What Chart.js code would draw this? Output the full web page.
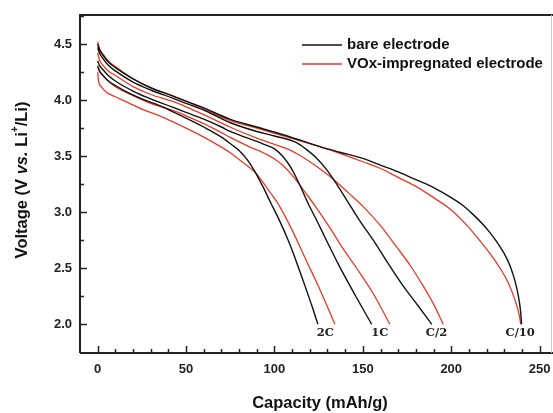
<!DOCTYPE html>
<html>
<head>
<meta charset="utf-8">
<script src="https://cdn.jsdelivr.net/npm/chart.js@4.4.1/dist/chart.umd.min.js"></script>
<style>
html,body{margin:0;padding:0;background:#fff;}
#c{display:block;}
</style>
</head>
<body>
<canvas id="c" width="553" height="413"></canvas>
<script>
// ---------- data (capacity mAh/g, voltage V) ----------
const rates = ["2C", "1C", "C/2", "C/10"];
const xTicks = [0, 50, 100, 150, 200, 250];
const yTicks = [2.0, 2.5, 3.0, 3.5, 4.0, 4.5];
const seriesNames = ["bare electrode", "VOx-impregnated electrode"];

const bare2C = [[0,4.30],[1,4.26],[3,4.22],[6,4.17],[10,4.13],[15.5,4.08],[25,4.01],[35,3.95],[42,3.90],[50,3.84],[60,3.76],[70,3.67],[76,3.60],[80,3.55],[85,3.46],[89,3.36],[93.4,3.23],[98,3.08],[103,2.92],[108,2.74],[112.6,2.55],[118,2.31],[121.5,2.15],[124.6,2.0]];
const vox2C  = [[0,4.25],[0.5,4.17],[2,4.12],[5,4.07],[10,4.03],[15.5,3.99],[25,3.92],[35,3.86],[42,3.81],[50,3.75],[60,3.67],[70,3.58],[75,3.53],[80,3.47],[85,3.41],[90,3.34],[96,3.21],[103,3.05],[110,2.84],[118,2.57],[126,2.30],[134.2,2.0]];
const bare1C = [[0,4.35],[1,4.31],[3,4.27],[6,4.22],[10,4.17],[20,4.08],[30,4.01],[42,3.94],[50,3.89],[60,3.83],[70,3.76],[75,3.72],[85,3.66],[95,3.60],[100,3.565],[104,3.51],[108,3.43],[111,3.35],[114.4,3.24],[119,3.08],[123.8,2.93],[130,2.73],[137,2.51],[146,2.25],[155,2.0]];
const vox1C  = [[0,4.31],[1,4.26],[3,4.22],[6,4.17],[10,4.12],[20,4.04],[30,3.97],[42,3.91],[50,3.86],[60,3.79],[70,3.71],[74.7,3.67],[85,3.59],[95,3.52],[100,3.475],[105,3.415],[110,3.33],[118.2,3.16],[125,3.01],[131.4,2.86],[139,2.67],[146.5,2.50],[156,2.27],[165.3,2.0]];
const bareC2 = [[0,4.47],[1,4.42],[3,4.37],[6,4.31],[10,4.26],[20,4.16],[30,4.09],[42,4.02],[50,3.97],[60,3.91],[74.7,3.80],[90,3.72],[100,3.68],[112.5,3.62],[118,3.56],[124,3.48],[129.5,3.38],[135,3.255],[140.8,3.11],[148,2.93],[155.9,2.75],[164,2.55],[172.9,2.34],[181,2.17],[189,2.0]];
const voxC2  = [[0,4.42],[1,4.36],[3,4.31],[6,4.26],[10,4.22],[20,4.12],[30,4.05],[42,3.99],[50,3.94],[60,3.87],[74.7,3.76],[90,3.66],[100,3.605],[108,3.56],[114,3.51],[120,3.45],[128,3.36],[135.1,3.27],[142,3.17],[150.2,3.05],[160,2.88],[169.1,2.69],[177,2.52],[184.2,2.34],[190,2.18],[195.5,2.0]];
const bareC10 = [[0,4.50],[1,4.45],[3,4.40],[6,4.34],[10,4.29],[20,4.19],[30,4.11],[42,4.04],[50,3.99],[60,3.93],[74.7,3.83],[90,3.76],[103,3.70],[115,3.64],[125.7,3.585],[137,3.535],[150,3.48],[160,3.42],[170,3.36],[180,3.29],[190,3.22],[200,3.13],[207,3.055],[212,2.985],[218,2.89],[222,2.815],[226,2.73],[230,2.63],[233.3,2.52],[236,2.39],[238,2.25],[239.2,2.12],[239.8,2.0]];
const voxC10  = [[0,4.52],[1,4.46],[3,4.41],[6,4.35],[10,4.30],[20,4.19],[30,4.11],[42,4.04],[50,3.99],[60,3.92],[74.7,3.82],[90,3.75],[103,3.69],[115,3.635],[125.7,3.585],[137,3.525],[150,3.45],[160,3.39],[170,3.31],[180,3.23],[190,3.13],[200,3.02],[209,2.88],[216,2.75],[222,2.63],[228,2.49],[232,2.38],[236,2.22],[238.5,2.08],[239.3,2.0]];

const bareSets = [bare2C, bare1C, bareC2, bareC10];
const voxSets  = [vox2C, vox1C, voxC2, voxC10];

// ---------- styles ----------
const BLACK = '#111111';
const RED = '#e83a26';
const FONT = '"Liberation Sans", Arial, sans-serif';

const toPts = a => a.map(p => ({x: p[0], y: p[1]}));
const datasets = [];
rates.forEach((r, i) => {
  datasets.push({label: seriesNames[0] + ' ' + r, data: toPts(bareSets[i]), borderColor: BLACK, borderWidth: 1.4, showLine: true, pointRadius: 0, cubicInterpolationMode: 'monotone', fill: false});
  datasets.push({label: seriesNames[1] + ' ' + r, data: toPts(voxSets[i]), borderColor: RED, borderWidth: 1.3, showLine: true, pointRadius: 0, cubicInterpolationMode: 'monotone', fill: false});
});

const decor = {
  id: 'decor',
  afterDraw(chart) {
    const ctx = chart.ctx;
    const xs = chart.scales.x, ys = chart.scales.y;
    const a = chart.chartArea;
    ctx.save();
    // frame
    ctx.strokeStyle = '#222';
    ctx.lineWidth = 2;
    ctx.beginPath();
    ctx.moveTo(a.left, a.bottom); ctx.lineTo(a.left, a.top); ctx.lineTo(553, a.top);
    ctx.moveTo(a.left, a.bottom); ctx.lineTo(553, a.bottom);
    ctx.stroke();
    ctx.strokeStyle = '#ccc'; ctx.lineWidth = 1;
    ctx.beginPath(); ctx.moveTo(a.right - 0.5, a.top); ctx.lineTo(a.right - 0.5, a.bottom); ctx.stroke();
    // inward ticks
    ctx.strokeStyle = '#222'; ctx.lineWidth = 1.5;
    ctx.beginPath();
    for (let v = 0; v <= 250; v += 10) {
      const px = Math.round(xs.getPixelForValue(v)) + 0.5;
      const len = (v % 50 === 0) ? 7 : 4;
      ctx.moveTo(px, a.bottom); ctx.lineTo(px, a.bottom - len);
    }
    for (let v = 2.0; v <= 4.76; v += 0.25) {
      const py = Math.round(ys.getPixelForValue(v)) + 0.5;
      const len = (Math.abs(v * 2 - Math.round(v * 2)) < 1e-6) ? 7 : 4;
      ctx.moveTo(a.left, py); ctx.lineTo(a.left + len, py);
    }
    ctx.stroke();
    // x title
    ctx.fillStyle = '#111';
    ctx.font = 'bold 16.5px ' + FONT;
    ctx.textAlign = 'center'; ctx.textBaseline = 'middle';
    ctx.fillText('Capacity (mAh/g)', 320, 403);
    // y title with mixed styles
    const parts = [
      {t: 'Voltage (V ', f: 'bold 16.5px ' + FONT, dy: 0},
      {t: 'vs.', f: 'italic bold 16.5px ' + FONT, dy: 0},
      {t: ' Li', f: 'bold 16.5px ' + FONT, dy: 0},
      {t: '+', f: 'bold 10px ' + FONT, dy: -7},
      {t: '/Li)', f: 'bold 16.5px ' + FONT, dy: 0}
    ];
    let total = 0;
    parts.forEach(p => { ctx.font = p.f; p.w = ctx.measureText(p.t).width; total += p.w; });
    ctx.translate(22, 180);
    ctx.rotate(-Math.PI / 2);
    ctx.textAlign = 'left'; ctx.textBaseline = 'middle';
    let cx = -total / 2;
    parts.forEach(p => { ctx.font = p.f; ctx.fillText(p.t, cx, p.dy); cx += p.w; });
    ctx.setTransform(1, 0, 0, 1, 0, 0);
    // legend
    const legendItems = [{c: BLACK, t: seriesNames[0]}, {c: RED, t: seriesNames[1]}];
    ctx.font = 'bold 15px ' + FONT;
    ctx.textAlign = 'left'; ctx.textBaseline = 'middle';
    legendItems.forEach((it, i) => {
      const y = 45 + i * 19;
      ctx.strokeStyle = it.c; ctx.lineWidth = 1.5;
      ctx.beginPath(); ctx.moveTo(302, y); ctx.lineTo(342, y); ctx.stroke();
      ctx.fillStyle = '#111';
      ctx.fillText(it.t, 347, y);
    });
    // rate labels under curve ends
    ctx.font = 'bold 11.5px "DejaVu Serif", "Liberation Serif", serif';
    ctx.textAlign = 'center'; ctx.textBaseline = 'middle';
    ctx.fillStyle = '#222';
    rates.forEach((r, i) => {
      const b = bareSets[i][bareSets[i].length - 1];
      const v = voxSets[i][voxSets[i].length - 1];
      const px = xs.getPixelForValue((b[0] + v[0]) / 2) - 1;
      const py = ys.getPixelForValue(Math.min(b[1], v[1])) + 9;
      ctx.fillText(r, px, py);
    });
    ctx.restore();
  }
};

new Chart(document.getElementById('c'), {
  type: 'scatter',
  data: {datasets},
  options: {
    responsive: false,
    animation: false,
    devicePixelRatio: 1,
    layout: {autoPadding: false, padding: {top: 15, right: 1, left: 0, bottom: 0}},
    plugins: {legend: {display: false}, tooltip: {enabled: false}},
    scales: {
      x: {
        type: 'linear', min: -10, max: 257,
        afterBuildTicks: s => { s.ticks = xTicks.map(v => ({value: v})); },
        afterFit: s => { s.height = 60; s.paddingLeft = 0; s.paddingRight = 0; },
        grid: {display: false, drawTicks: false},
        border: {display: false},
        ticks: {padding: 9, color: '#222', font: {family: FONT, size: 13, weight: 'bold'}, callback: v => String(v)}
      },
      y: {
        type: 'linear', min: 1.744, max: 4.759,
        afterBuildTicks: s => { s.ticks = yTicks.map(v => ({value: v})); },
        afterFit: s => { s.width = 80; s.paddingTop = 0; s.paddingBottom = 0; },
        grid: {display: false, drawTicks: false},
        border: {display: false},
        ticks: {padding: 8, color: '#222', font: {family: FONT, size: 13, weight: 'bold'}, callback: v => Number(v).toFixed(1)}
      }
    }
  },
  plugins: [decor]
});
</script>
</body>
</html>
